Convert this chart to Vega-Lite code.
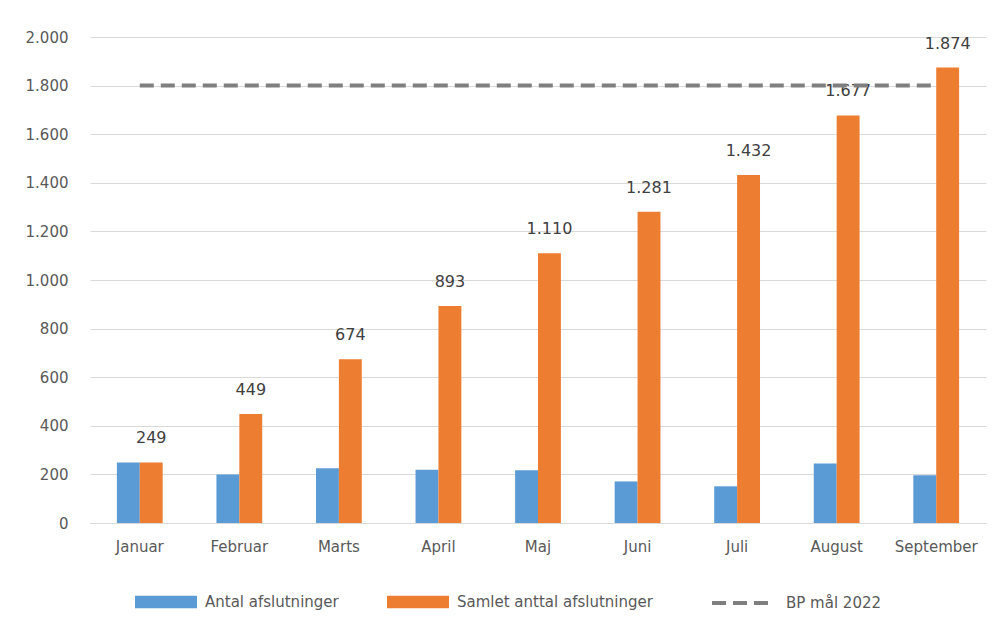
{
  "$schema": "https://vega.github.io/schema/vega-lite/v6.json",
  "width": 896,
  "height": 486,
  "autosize": {"type": "none"},
  "padding": {"left": 90, "top": 37, "right": 15, "bottom": 102},
  "background": "white",
  "config": {"view": {"stroke": null}, "font": "DejaVu Sans"},
  "data": {
    "values": [
      {"maaned": "Januar", "Antal afslutninger": 249, "Samlet anttal afslutninger": 249, "label": "249", "maal": 1800},
      {"maaned": "Februar", "Antal afslutninger": 200, "Samlet anttal afslutninger": 449, "label": "449", "maal": 1800},
      {"maaned": "Marts", "Antal afslutninger": 225, "Samlet anttal afslutninger": 674, "label": "674", "maal": 1800},
      {"maaned": "April", "Antal afslutninger": 219, "Samlet anttal afslutninger": 893, "label": "893", "maal": 1800},
      {"maaned": "Maj", "Antal afslutninger": 217, "Samlet anttal afslutninger": 1110, "label": "1.110", "maal": 1800},
      {"maaned": "Juni", "Antal afslutninger": 171, "Samlet anttal afslutninger": 1281, "label": "1.281", "maal": 1800},
      {"maaned": "Juli", "Antal afslutninger": 151, "Samlet anttal afslutninger": 1432, "label": "1.432", "maal": 1800},
      {"maaned": "August", "Antal afslutninger": 245, "Samlet anttal afslutninger": 1677, "label": "1.677", "maal": 1800},
      {"maaned": "September", "Antal afslutninger": 197, "Samlet anttal afslutninger": 1874, "label": "1.874", "maal": 1800}
    ]
  },
  "layer": [
    {
      "transform": [{"fold": ["Antal afslutninger", "Samlet anttal afslutninger"], "as": ["serie", "vaerdi"]}],
      "mark": {"type": "bar"},
      "encoding": {
        "x": {
          "field": "maaned", "type": "nominal",
          "sort": ["Januar", "Februar", "Marts", "April", "Maj", "Juni", "Juli", "August", "September"],
          "scale": {"paddingInner": 0.54, "paddingOuter": 0.27},
          "axis": {"title": null, "labelAngle": 0, "ticks": false, "domainColor": "#d9d9d9", "domainWidth": 1, "labelFontSize": 15, "labelColor": "#595959", "labelPadding": 16}
        },
        "xOffset": {"field": "serie", "type": "nominal", "sort": ["Antal afslutninger", "Samlet anttal afslutninger"]},
        "y": {
          "field": "vaerdi", "type": "quantitative",
          "scale": {"domain": [0, 2000]},
          "axis": {"title": null, "values": [0, 200, 400, 600, 800, 1000, 1200, 1400, 1600, 1800, 2000], "labelExpr": "replace(format(datum.value, ','), ',', '.')", "domain": false, "ticks": false, "gridColor": "#d9d9d9", "labelFontSize": 15, "labelColor": "#595959", "labelPadding": 22}
        },
        "color": {
          "field": "serie", "type": "nominal",
          "scale": {"domain": ["Antal afslutninger", "Samlet anttal afslutninger"], "range": ["#5b9bd5", "#ed7d31"]},
          "legend": {"title": null, "orient": "none", "legendX": 45, "legendY": 534, "direction": "horizontal", "symbolType": "M-1,-0.2H1V0.2H-1Z", "symbolSize": 3844, "symbolStrokeWidth": 0, "labelFontSize": 15, "labelColor": "#595959", "labelOffset": 8, "labelLimit": 400, "columnPadding": 48}
        }
      }
    },
    {
      "transform": [
        {"fold": ["Antal afslutninger", "Samlet anttal afslutninger"], "as": ["serie", "vaerdi"]},
        {"filter": {"field": "serie", "equal": "Samlet anttal afslutninger"}}
      ],
      "mark": {"type": "text", "dy": -24, "fontSize": 16, "color": "#404040", "baseline": "middle"},
      "encoding": {
        "x": {"field": "maaned", "type": "nominal", "sort": ["Januar", "Februar", "Marts", "April", "Maj", "Juni", "Juli", "August", "September"]},
        "xOffset": {"field": "serie", "type": "nominal", "sort": ["Antal afslutninger", "Samlet anttal afslutninger"]},
        "y": {"field": "vaerdi", "type": "quantitative"},
        "text": {"field": "label"}
      }
    },
    {
      "mark": {"type": "line", "strokeWidth": 4, "color": "#7f7f7f"},
      "encoding": {
        "x": {"field": "maaned", "type": "nominal", "sort": ["Januar", "Februar", "Marts", "April", "Maj", "Juni", "Juli", "August", "September"]},
        "y": {"field": "maal", "type": "quantitative"},
        "strokeDash": {
          "datum": "BP mål 2022",
          "scale": {"domain": ["BP mål 2022"], "range": [[14, 7]]},
          "legend": {"title": null, "orient": "none", "legendX": 620, "legendY": 534, "symbolType": "stroke", "symbolSize": 3600, "symbolStrokeWidth": 4, "symbolStrokeColor": "#7f7f7f", "labelFontSize": 15, "labelColor": "#595959", "labelOffset": 12}
        }
      }
    }
  ]
}
